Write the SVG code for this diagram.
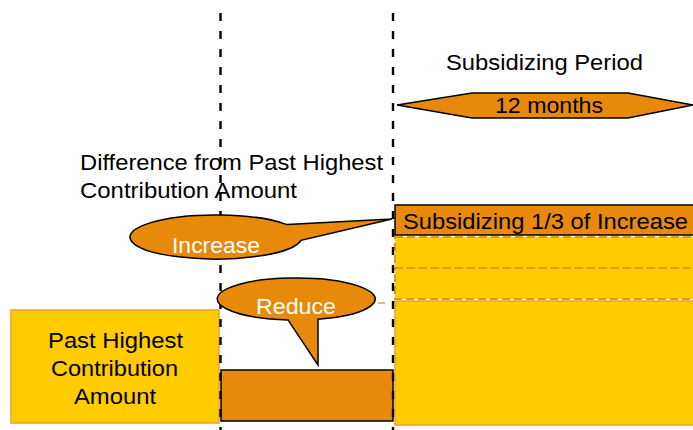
<svg xmlns="http://www.w3.org/2000/svg" width="693" height="430" viewBox="0 0 693 430">
<style>
text{font-family:"Liberation Sans",Arial,sans-serif;font-size:22px;fill:#000}
.w{fill:#fff}
.c{text-anchor:middle}
.org{fill:#E8890C;stroke:#000;stroke-width:1.5}
.yel{fill:#FFCC00;stroke:#F0A030;stroke-width:1.5}
.yd{fill:#FFCC00;stroke:#E8961E;stroke-width:2;stroke-dasharray:8 4}
.vd{stroke:#000;stroke-width:2.4;stroke-dasharray:8 10;fill:none}
</style>
<rect width="693" height="430" fill="#fff"/>
<g id="subsidy-area">
<rect class="yel" x="395" y="301" width="300" height="124"/>
<rect class="yd" x="395" y="237" width="300" height="31"/>
<rect class="yd" x="395" y="268" width="300" height="31"/>
</g>
<g id="past-highest">
<rect class="yel" x="11" y="310" width="208" height="113"/>
<text class="c" x="115.5" y="348" textLength="135" lengthAdjust="spacingAndGlyphs">Past Highest</text>
<text class="c" x="114.5" y="376" textLength="127" lengthAdjust="spacingAndGlyphs">Contribution</text>
<text class="c" x="115" y="404" textLength="82" lengthAdjust="spacingAndGlyphs">Amount</text>
</g>
<g id="reduce-bar">
<rect class="org" x="221" y="370" width="172" height="51"/>
</g>
<g id="subsidizing-box">
<rect class="org" x="395" y="205" width="300" height="30"/>
<text x="403" y="229" textLength="285" lengthAdjust="spacingAndGlyphs">Subsidizing 1/3 of Increase</text>
</g>
<g id="period-arrow">
<polygon class="org" points="397,105 472,93 628,93 693,105 628,118 472,118"/>
<text class="c" x="549" y="113" textLength="108" lengthAdjust="spacingAndGlyphs">12 months</text>
</g>
<g id="connectors">
<line class="vd" x1="220.5" y1="13" x2="220.5" y2="430"/>
<line class="vd" x1="393" y1="13" x2="393" y2="430"/>
<line x1="378" y1="303" x2="385" y2="303" stroke="#F0A030" stroke-width="1.5"/>
</g>
<g id="increase-callout">
<path class="org" d="M287,224.6 L392,219 L301,240.3 A86,22 0 1 1 287,224.6 Z"/>
<text class="c w" x="216" y="253" textLength="88" lengthAdjust="spacingAndGlyphs">Increase</text>
</g>
<g id="reduce-callout">
<path class="org" d="M318,319.2 A79,21 0 1 0 288,319.9 L318,365 Z"/>
<text class="c w" x="296" y="314" textLength="80" lengthAdjust="spacingAndGlyphs">Reduce</text>
</g>
<g id="labels">
<text class="c" x="544.5" y="70" textLength="197" lengthAdjust="spacingAndGlyphs">Subsidizing Period</text>
<text x="80" y="170" textLength="303" lengthAdjust="spacingAndGlyphs">Difference from Past Highest</text>
<text x="80" y="198" textLength="217" lengthAdjust="spacingAndGlyphs">Contribution Amount</text>
</g>
</svg>
